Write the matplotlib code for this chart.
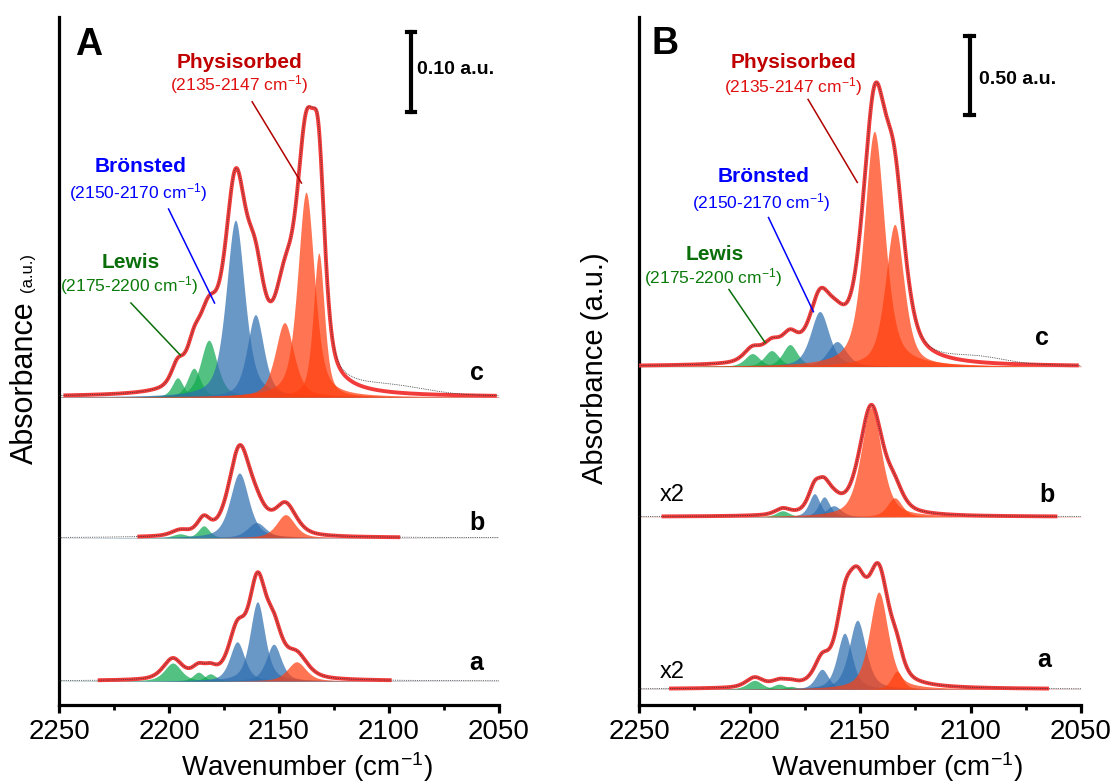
import numpy as np
import matplotlib.pyplot as plt

plt.rcParams['font.family'] = ['Liberation Sans', 'DejaVu Sans']
plt.rcParams['mathtext.fontset'] = 'custom'
plt.rcParams['mathtext.rm'] = 'Liberation Sans'
plt.rcParams['mathtext.it'] = 'Liberation Sans:italic'
plt.rcParams['mathtext.bf'] = 'Liberation Sans:bold'

# ---- peak fits (centre cm-1, height a.u., fwhm cm-1, site) ----
# panel A
A_c_pos = [2196.1, 2188.7, 2181.9, 2169.8, 2160.7, 2147.5, 2137.7, 2131.9]
A_c_hgt = [0.024, 0.036, 0.071, 0.221, 0.103, 0.093, 0.256, 0.180]
A_c_fwhm = [6, 7, 9, 10, 9, 10, 9, 6]
A_c_site = ["L", "L", "L", "B", "B", "P", "P", "P"]

A_b_pos = [2195.0, 2184.2, 2168.0, 2160.2, 2147.0]
A_b_hgt = [0.005, 0.015, 0.081, 0.019, 0.029]
A_b_fwhm = [8, 6, 10, 10, 10]
A_b_site = ["L", "L", "B", "B", "P"]

A_a_pos = [2198.3, 2186.6, 2181.2, 2169.0, 2159.8, 2152.4, 2142.0]
A_a_hgt = [0.0225, 0.011, 0.009, 0.049, 0.099, 0.046, 0.024]
A_a_fwhm = [9, 6, 6, 8, 8, 8, 10]
A_a_site = ["L", "L", "L", "B", "B", "B", "P"]

# panel B (a and b are shown x2)
B_c_pos = [2198.7, 2190.0, 2181.7, 2168.2, 2160.4, 2143.5, 2134.3]
B_c_hgt = [0.082, 0.101, 0.139, 0.348, 0.158, 1.487, 0.899]
B_c_fwhm = [8, 8, 8, 10, 10, 11, 10]
B_c_site = ["L", "L", "L", "B", "B", "P", "P"]

B_b_pos = [2185.0, 2170.6, 2166.2, 2161.9, 2144.9, 2134.3]
B_b_hgt = [0.019, 0.073, 0.063, 0.035, 0.345, 0.060]
B_b_fwhm = [7, 6, 6, 8, 11, 8]
B_b_site = ["L", "B", "B", "B", "P", "P"]

B_a_pos = [2197.7, 2186.6, 2181.2, 2167.2, 2157.0, 2151.2, 2141.5, 2133.3]
B_a_hgt = [0.028, 0.016, 0.009, 0.063, 0.177, 0.218, 0.307, 0.057]
B_a_fwhm = [8, 7, 6, 7, 8, 9, 10, 6]
B_a_site = ["L", "L", "L", "B", "B", "B", "P", "P"]

# stacking offsets, envelope maxima, fitted ranges, multipliers
A_offsets = {"c": 0.385, "b": 0.209, "a": 0.030}
A_env_max = {"c": 0.3625, "b": 0.116, "a": 0.136}
A_env_range = {"c": (2248, 2051), "b": (2214.4, 2094.9), "a": (2232.4, 2098.8)}
A_mult = {"c": 1, "b": 1, "a": 1}

B_offsets = {"c": 2.14, "b": 1.19, "a": 0.10}
B_env_max = {"c": 1.797, "b": 0.354, "a": 0.399}
B_env_range = {"c": (2250, 2051), "b": (2239.8, 2060.7), "a": (2236.4, 2064.5)}
B_mult = {"c": 1, "b": 2, "a": 2}

# envelope is drawn a bit broader than the component bands
env_broaden = 1.15

# extra broad band only in the measured spectrum (pos, height, fwhm)
A_extra = {"c": (2100, 0.010, 40), "b": (2100, 0.0, 30), "a": (2100, 0.0, 30)}
B_extra = {"c": (2097, 0.04, 30), "b": (2100, 0.0, 30), "a": (2100, 0.0, 30)}

site_color = {"L": "#10aa50", "B": "#2f6fb0", "P": "#ff4010"}

wn = np.linspace(2250, 2050, 2001)


def band(x, c, h, w, eta=0.55):
    g = np.exp(-4 * np.log(2) * ((x - c) / w) ** 2)
    lo = 1 / (1 + 4 * ((x - c) / w) ** 2)
    return h * (eta * lo + (1 - eta) * g)


def draw_trace(ax, pos, hgt, fwhm, site, off, env_max, env_range, mult, extra):
    total = np.zeros_like(wn)
    for c, h, w, s in zip(pos, hgt, fwhm, site):
        y = band(wn, c, h * mult, w)
        total += band(wn, c, h * mult, w * env_broaden)
        ax.fill_between(wn, off, off + y, color=site_color[s], alpha=0.72,
                        lw=0, zorder=2)
    env = total * (env_max * mult / total.max())
    exp = env + band(wn, extra[0], extra[1] * mult, extra[2], eta=0.0)
    m = (wn <= env_range[0]) & (wn >= env_range[1])
    ax.plot(wn[m], off + env[m], color="#f23c3c", lw=2.8, zorder=4,
            solid_capstyle="butt")
    ax.plot(wn, off + exp, color="#333333", lw=0.6, ls=(0, (1, 1.2)), zorder=5)


W, H = 1118, 782
fig = plt.figure(figsize=(W / 100, H / 100), dpi=100)

axA = fig.add_axes([59 / W, 1 - 705 / H, 440 / W, 688 / H])
axB = fig.add_axes([639 / W, 1 - 705 / H, 442 / W, 688 / H])

panels = [
    (axA, {"c": (A_c_pos, A_c_hgt, A_c_fwhm, A_c_site),
           "b": (A_b_pos, A_b_hgt, A_b_fwhm, A_b_site),
           "a": (A_a_pos, A_a_hgt, A_a_fwhm, A_a_site)},
     A_offsets, A_env_max, A_env_range, A_mult, A_extra, 0.86),
    (axB, {"c": (B_c_pos, B_c_hgt, B_c_fwhm, B_c_site),
           "b": (B_b_pos, B_b_hgt, B_b_fwhm, B_b_site),
           "a": (B_a_pos, B_a_hgt, B_a_fwhm, B_a_site)},
     B_offsets, B_env_max, B_env_range, B_mult, B_extra, 4.35),
]

for ax, traces, offs, emax, erange, mult, extra, ytop in panels:
    for key, (p, h, w, s) in traces.items():
        draw_trace(ax, p, h, w, s, offs[key], emax[key], erange[key],
                   mult[key], extra[key])
    ax.set_xlim(2250, 2050)
    ax.set_ylim(0, ytop)
    ax.set_xticks([2250, 2200, 2150, 2100, 2050])
    ax.set_xticks([2225, 2175, 2125, 2075], minor=True)
    ax.set_yticks([])
    for side in ["top", "right"]:
        ax.spines[side].set_visible(False)
    for side in ["left", "bottom"]:
        ax.spines[side].set_linewidth(2.3)
    ax.tick_params(axis="x", which="major", direction="out", length=6,
                   width=2.3, labelsize=20, pad=4)
    ax.tick_params(axis="x", which="minor", direction="out", length=3.5,
                   width=2.0)
    ax.patch.set_alpha(0)

# ---- panel A annotations ----
axA.text(2236.5, 0.825, "A", fontsize=27, fontweight="bold", ha="center", va="center")
axA.text(2168.0, 0.8025, "Physisorbed", color="#c00000", fontsize=15,
         fontweight="bold", ha="center", va="center")
axA.text(2168.0, 0.775, "(2135-2147 cm$^{-1}$)", color="#e01010", fontsize=12.5,
         ha="center", va="center")
axA.text(2212.9, 0.6725, "Brönsted", color="#0000ff", fontsize=15,
         fontweight="bold", ha="center", va="center")
axA.text(2213.9, 0.640, "(2150-2170 cm$^{-1}$)", color="#0000ff", fontsize=12.5,
         ha="center", va="center")
axA.text(2217.3, 0.5525, "Lewis", color="#0a6e0a", fontsize=15,
         fontweight="bold", ha="center", va="center")
axA.text(2218.3, 0.524, "(2175-2200 cm$^{-1}$)", color="#0a7a0a", fontsize=12.5,
         ha="center", va="center")
axA.plot([2162.2, 2139.8], [0.754, 0.6525], color="#b00000", lw=1.1, zorder=6)
axA.plot([2200.2, 2179.3], [0.620, 0.5025], color="#0000ff", lw=1.1, zorder=6)
axA.plot([2217.3, 2194.9], [0.5025, 0.4375], color="#0a6e0a", lw=1.1, zorder=6)
axA.plot([2090.1, 2090.1], [0.741, 0.841], color="black", lw=3, zorder=6)
axA.plot([2092, 2088.2], [0.841, 0.841], color="black", lw=3, zorder=6)
axA.plot([2092, 2088.2], [0.741, 0.741], color="black", lw=3, zorder=6)
axA.text(2087.3, 0.794, "0.10 a.u.", fontsize=14, fontweight="bold",
         ha="left", va="center")
axA.text(2060.2, 0.415, "c", fontsize=18, fontweight="bold", ha="center", va="center")
axA.text(2059.8, 0.2275, "b", fontsize=18, fontweight="bold", ha="center", va="center")
axA.text(2060.2, 0.0525, "a", fontsize=18, fontweight="bold", ha="center", va="center")

# ---- panel B annotations ----
axB.text(2238.4, 4.18, "B", fontsize=27, fontweight="bold", ha="center", va="center")
axB.text(2180.3, 4.063, "Physisorbed", color="#c00000", fontsize=15,
         fontweight="bold", ha="center", va="center")
axB.text(2180.3, 3.911, "(2135-2147 cm$^{-1}$)", color="#e01010", fontsize=12.5,
         ha="center", va="center")
axB.text(2193.8, 3.342, "Brönsted", color="#0000ff", fontsize=15,
         fontweight="bold", ha="center", va="center")
axB.text(2194.8, 3.177, "(2150-2170 cm$^{-1}$)", color="#0000ff", fontsize=12.5,
         ha="center", va="center")
axB.text(2215.6, 2.848, "Lewis", color="#0a6e0a", fontsize=15,
         fontweight="bold", ha="center", va="center")
axB.text(2216.6, 2.703, "(2175-2200 cm$^{-1}$)", color="#0a7a0a", fontsize=12.5,
         ha="center", va="center")
axB.plot([2173.5, 2151.2], [3.829, 3.304], color="#b00000", lw=1.1, zorder=6)
axB.plot([2191.4, 2171.1], [3.082, 2.487], color="#0000ff", lw=1.1, zorder=6)
axB.plot([2209.3, 2192.9], [2.627, 2.291], color="#0a6e0a", lw=1.1, zorder=6)
axB.plot([2100.4, 2100.4], [3.728, 4.228], color="black", lw=3, zorder=6)
axB.plot([2102.3, 2098.5], [4.228, 4.228], color="black", lw=3, zorder=6)
axB.plot([2102.3, 2098.5], [3.728, 3.728], color="black", lw=3, zorder=6)
axB.text(2096, 3.956, "0.50 a.u.", fontsize=14, fontweight="bold",
         ha="left", va="center")
axB.text(2067.9, 2.323, "c", fontsize=18, fontweight="bold", ha="center", va="center")
axB.text(2065.5, 1.329, "b", fontsize=18, fontweight="bold", ha="center", va="center")
axB.text(2066.5, 0.285, "a", fontsize=18, fontweight="bold", ha="center", va="center")
axB.text(2235, 1.329, "x2", fontsize=17, ha="center", va="center")
axB.text(2235, 0.209, "x2", fontsize=17, ha="center", va="center")

# axis titles
fig.text(25 / W, 1 - 383 / H, "Absorbance", fontsize=22, rotation=90,
         ha="center", va="center")
fig.text(27 / W, 1 - 272 / H, "(a.u.)", fontsize=12, rotation=90,
         ha="center", va="center")
fig.text(595 / W, 1 - 368 / H, "Absorbance (a.u.)", fontsize=21, rotation=90,
         ha="center", va="center")
fig.text(307 / W, 1 - 767 / H, "Wavenumber (cm$^{-1}$)", fontsize=20,
         ha="center", va="center")
fig.text(897 / W, 1 - 767 / H, "Wavenumber (cm$^{-1}$)", fontsize=20,
         ha="center", va="center")

fig.savefig("out.png", dpi=100)
